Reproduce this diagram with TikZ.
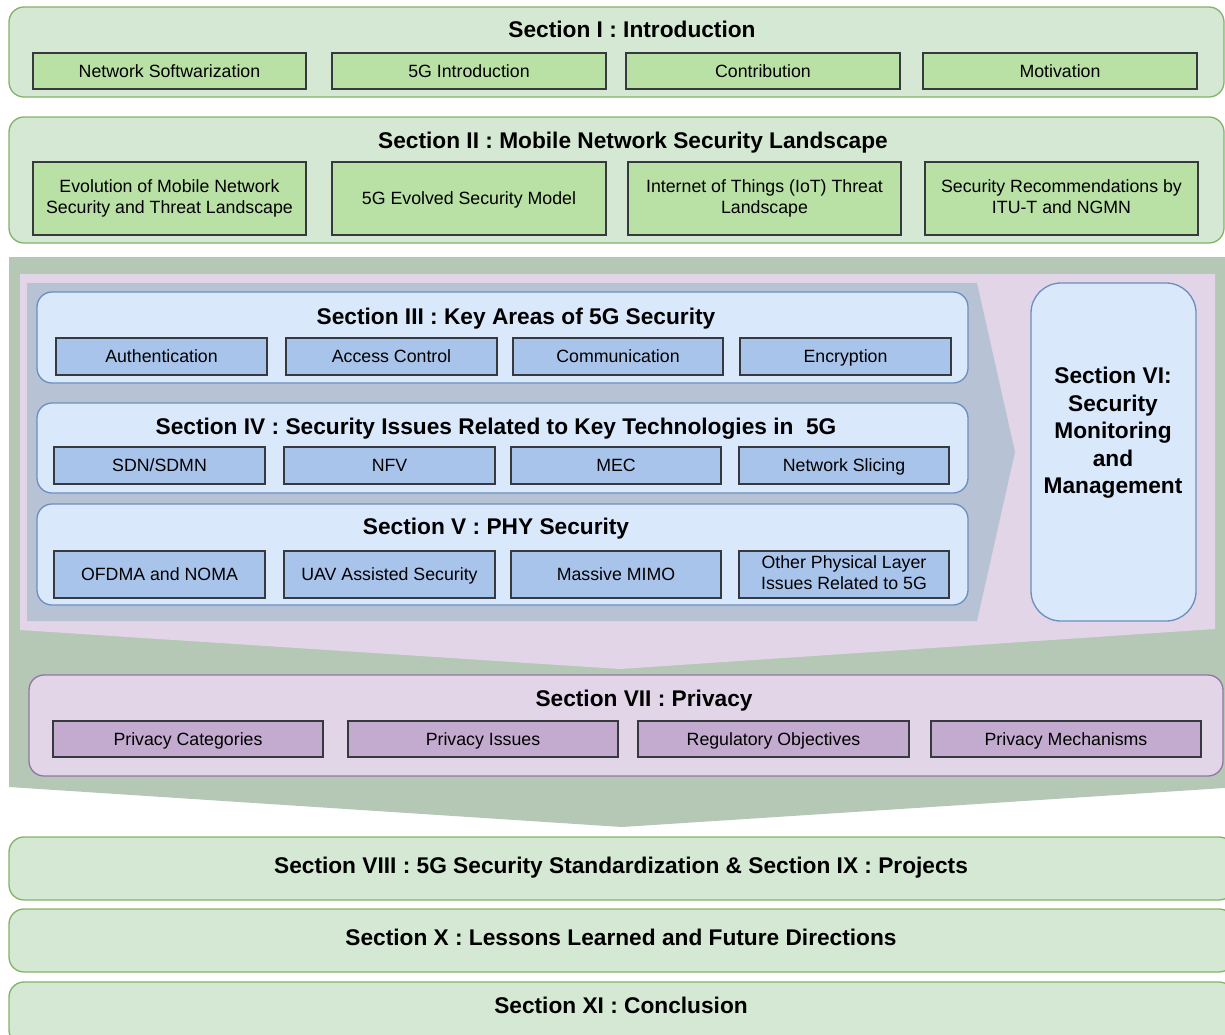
\documentclass[tikz,border=0pt]{standalone}
\usepackage{fontspec}
\setmainfont{Liberation Sans}
\definecolor{lgreen}{HTML}{D5E8D4}
\definecolor{sgreen}{HTML}{82B366}
\definecolor{mgreen}{HTML}{B9E0A5}
\definecolor{lblue}{HTML}{DAE8FC}
\definecolor{sblue}{HTML}{6C8EBF}
\definecolor{mblue}{HTML}{A9C4EB}
\definecolor{lpurple}{HTML}{E1D5E7}
\definecolor{spurple}{HTML}{9673A6}
\definecolor{mpurple}{HTML}{C3ABD0}
\definecolor{bggreen}{HTML}{B5C8B5}
\definecolor{bggrey}{HTML}{B7C3D5}
\definecolor{darkedge}{HTML}{36393D}
\newcommand{\boxnode}[7]{%
  \node[#1, minimum width={#5-#3}, minimum height={#6-#4}] (#2) at ({(#3+#5)/2},{(#4+#6)/2}) {#7};}
\begin{document}
\begin{tikzpicture}[x=1pt,y=-1pt,
  every node/.style={inner sep=0pt, outer sep=0pt},
  greensec/.style={draw=sgreen, fill=lgreen, line width=1.3pt, rounded corners=15pt},
  bluesec/.style={draw=sblue, fill=lblue, line width=1.3pt, rounded corners=15pt},
  purplesec/.style={draw=spurple, fill=lpurple, line width=1.3pt, rounded corners=15pt},
  sidesec/.style={draw=sblue, fill=lblue, line width=1.3pt, rounded corners=30pt},
  subtext/.style={font=\fontsize{17.75}{21.5}\selectfont, align=center,
    execute at begin node={\rule{0pt}{16.7pt}},
    execute at end node={\rule[-4pt]{0pt}{4pt}}},
  greensub/.style={subtext, draw=darkedge, fill=mgreen, line width=1.1pt},
  bluesub/.style={subtext, draw=darkedge, fill=mblue, line width=1.1pt},
  purplesub/.style={subtext, draw=darkedge, fill=mpurple, line width=1.1pt},
  title/.style={font=\fontsize{22.7}{27.5}\selectfont\bfseries, align=center,
    execute at begin node={\rule{0pt}{21.3pt}},
    execute at end node={\rule[-5pt]{0pt}{5pt}}}]
\useasboundingbox (0,0) rectangle (1225,1034);
\clip (0,0) rectangle (1225,1034);
% background arrows
\fill[bggreen] (9,257) -- (1240,257) -- (1240,787) -- (622,827) -- (9,787) -- cycle;
\fill[lpurple] (20,274) -- (1215,274) -- (1215,629) -- (620,669) -- (20,630) -- cycle;
\fill[bggrey] (27,283) -- (977,283) -- (1015,452) -- (977,621) -- (27,621) -- cycle;
% Section I
\boxnode{greensec}{s1}{9}{7}{1224}{97}{}
\node[title] (t1) at (632,29) {Section I : Introduction};
\boxnode{greensub}{s1a}{33}{53}{306}{89}{Network Softwarization}
\boxnode{greensub}{s1b}{332}{53}{606}{89}{5G Introduction}
\boxnode{greensub}{s1c}{626}{53}{900}{89}{Contribution}
\boxnode{greensub}{s1d}{923}{53}{1197}{89}{Motivation}
% Section II
\boxnode{greensec}{s2}{9}{117}{1224}{243}{}
\node[title] (t2) at (633,140) {Section II : Mobile Network Security Landscape};
\boxnode{greensub}{s2a}{33}{162}{306}{235}{Evolution of Mobile Network\\Security and Threat Landscape}
\boxnode{greensub}{s2b}{332}{162}{606}{235}{5G Evolved Security Model}
\boxnode{greensub}{s2c}{628}{162}{901}{235}{Internet of Things (IoT) Threat\\Landscape}
\boxnode{greensub}{s2d}{925}{162}{1198}{235}{Security Recommendations by\\ITU-T and NGMN}
% Section III
\boxnode{bluesec}{s3}{37}{292}{968}{383}{}
\node[title] (t3) at (516,316) {Section III : Key Areas of 5G Security};
\boxnode{bluesub}{s3a}{56}{338}{267}{375}{Authentication}
\boxnode{bluesub}{s3b}{286}{338}{497}{375}{Access Control}
\boxnode{bluesub}{s3c}{513}{338}{723}{375}{Communication}
\boxnode{bluesub}{s3d}{740}{338}{951}{375}{Encryption}
% Section IV
\boxnode{bluesec}{s4}{37}{403}{968}{493}{}
\node[title] (t4) at (496,426) {Section IV : Security Issues Related to Key Technologies in\ \ 5G};
\boxnode{bluesub}{s4a}{54}{447}{265}{484}{SDN/SDMN}
\boxnode{bluesub}{s4b}{284}{447}{495}{484}{NFV}
\boxnode{bluesub}{s4c}{511}{447}{721}{484}{MEC}
\boxnode{bluesub}{s4d}{739}{447}{949}{484}{Network Slicing}
% Section V
\boxnode{bluesec}{s5}{37}{504}{968}{605}{}
\node[title] (t5) at (496,526) {Section V : PHY Security};
\boxnode{bluesub}{s5a}{54}{551}{265}{598}{OFDMA and NOMA}
\boxnode{bluesub}{s5b}{284}{551}{495}{598}{UAV Assisted Security}
\boxnode{bluesub}{s5c}{511}{551}{721}{598}{Massive MIMO}
\boxnode{bluesub}{s5d}{739}{551}{949}{598}{Other Physical Layer\\Issues Related to 5G}
% Section VI
\boxnode{sidesec}{s6}{1031}{283}{1196}{621}{}
\node[title] (t6) at (1113,433) {Section VI:\\Security\\Monitoring\\and\\Management};
% Section VII
\boxnode{purplesec}{s7}{29}{675}{1223}{776}{}
\node[title] (t7) at (644,698) {Section VII : Privacy};
\boxnode{purplesub}{s7a}{53}{721}{323}{757}{Privacy Categories}
\boxnode{purplesub}{s7b}{348}{721}{618}{757}{Privacy Issues}
\boxnode{purplesub}{s7c}{638}{721}{909}{757}{Regulatory Objectives}
\boxnode{purplesub}{s7d}{931}{721}{1201}{757}{Privacy Mechanisms}
% Bottom sections
\boxnode{greensec}{s8}{9}{837}{1234}{900}{}
\node[title] (t8) at (621,865) {Section VIII : 5G Security Standardization \& Section IX : Projects};
\boxnode{greensec}{s10}{9}{909}{1234}{972}{}
\node[title] (t10) at (621,937) {Section X : Lessons Learned and Future Directions};
\boxnode{greensec}{s11}{9}{982}{1234}{1045}{}
\node[title] (t11) at (621,1005) {Section XI : Conclusion};
\end{tikzpicture}
\end{document}
